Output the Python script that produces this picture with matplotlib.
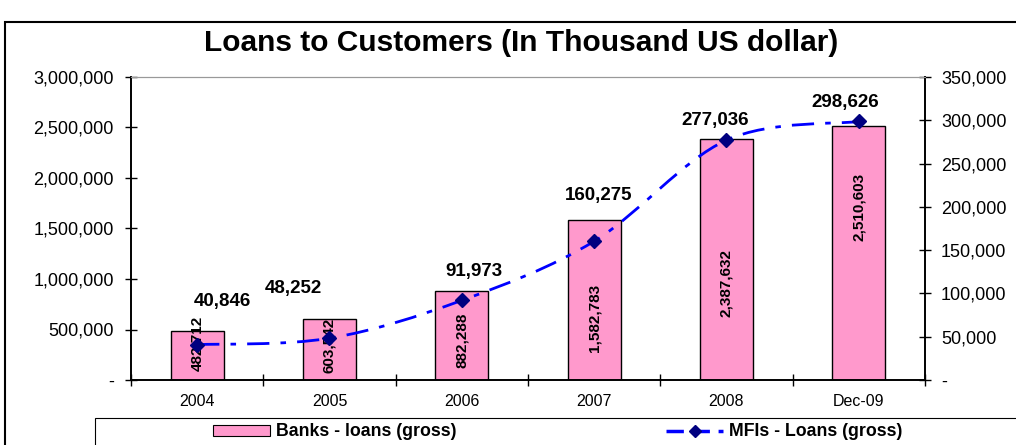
import matplotlib
matplotlib.use("Agg")
import matplotlib.pyplot as plt
import numpy as np
from matplotlib.path import Path
from matplotlib.patches import PathPatch, Rectangle
from matplotlib.lines import Line2D
from matplotlib.ticker import FuncFormatter, FixedLocator

plt.rcParams["font.family"] = ["Liberation Sans", "DejaVu Sans"]

# data
categories = ["2004", "2005", "2006", "2007", "2008", "Dec-09"]
banks_loans = [482712, 603542, 882288, 1582783, 2387632, 2510603]
mfi_loans = [40846, 48252, 91973, 160275, 277036, 298626]

# label placement (bar labels: centre height in left-axis units; line labels: offsets in points)
bar_label_y = [366000, 346000, 396000, 614000, 960000, 1710000]
line_label_off = [(18, 31), (-26, 36), (9, 21), (3, 33), (-8, 14), (-10, 14)]


def fmt(v, pos=None):
    if v == 0:
        return "-"
    return "{:,.0f}".format(v)


def smooth_path(xs, ys):
    # Excel style smoothed line: cubic bezier segments (catmull-rom control points)
    pts = np.column_stack([xs, ys]).astype(float)
    n = len(pts)
    verts = [pts[0]]
    codes = [Path.MOVETO]
    for i in range(n - 1):
        p0 = pts[max(i - 1, 0)]
        p1 = pts[i]
        p2 = pts[i + 1]
        p3 = pts[min(i + 2, n - 1)]
        c1 = p1 + (p2 - p0) / 6.0
        c2 = p2 - (p3 - p1) / 6.0
        verts += [c1, c2, p2]
        codes += [Path.CURVE4] * 3
    return Path(verts, codes)


fig = plt.figure(figsize=(10.16, 4.45), dpi=100)
ax = fig.add_axes([131 / 1016, 1 - 380 / 445, 794 / 1016, 303 / 445])
ax2 = ax.twinx()

x = np.arange(len(categories))
ax.bar(x, banks_loans, width=0.4, color="#FF99CC", edgecolor="black", linewidth=1.0, zorder=2)
for xi, v, ly in zip(x, banks_loans, bar_label_y):
    ax.text(xi, ly, fmt(v), rotation=90, ha="center", va="center",
            fontsize=11, fontweight="bold", zorder=4)

ax.set_xlim(-0.5, len(categories) - 0.5)
ax.set_ylim(0, 3000000)
ax.yaxis.set_major_locator(FixedLocator(np.arange(0, 3000001, 500000)))
ax.yaxis.set_major_formatter(FuncFormatter(fmt))
ax.set_xticks(x)
ax.set_xticklabels(categories)
ax.xaxis.set_minor_locator(FixedLocator(np.arange(-0.5, len(categories), 1.0)))
ax.tick_params(axis="x", which="major", length=0, labelsize=11.5, pad=10)
ax.tick_params(axis="x", which="minor", direction="inout", length=9, width=1)
ax.tick_params(axis="y", direction="inout", length=9, width=1, labelsize=13, pad=8)

ax2.set_ylim(0, 350000)
ax2.yaxis.set_major_locator(FixedLocator(np.arange(0, 350001, 50000)))
ax2.yaxis.set_major_formatter(FuncFormatter(fmt))
ax2.tick_params(axis="y", direction="inout", length=9, width=1, labelsize=13, pad=7)

for a in (ax, ax2):
    a.spines["top"].set_color("#999999")
    a.spines["top"].set_linewidth(0.8)
    a.spines["left"].set_linewidth(1.2)
    a.spines["right"].set_linewidth(1.2)
    a.spines["bottom"].set_linewidth(1.2)

curve = PathPatch(smooth_path(x, mfi_loans), facecolor="none", edgecolor="#0000FF",
                  linewidth=2, linestyle=(0, (8, 4, 2, 4)), zorder=3)
ax2.add_patch(curve)
ax2.plot(x, mfi_loans, linestyle="none", marker="D", markersize=7,
         color="#000080", zorder=5)
for xi, v, off in zip(x, mfi_loans, line_label_off):
    ax2.annotate(fmt(v), (xi, v), xytext=off, textcoords="offset points",
                 ha="center", va="center", fontsize=13.5, fontweight="bold")

fig.text(0.513, 1 - 43 / 445, "Loans to Customers (In Thousand US dollar)",
         ha="center", va="center", fontsize=21.5, fontweight="bold")

# outer chart border and legend box (both run off the picture)
fig.patches.append(Rectangle((5 / 1016, -0.1), 1.2, 1 - 22 / 445 + 0.1,
                             transform=fig.transFigure, fill=False,
                             edgecolor="black", linewidth=1.5))
fig.patches.append(Rectangle((95 / 1016, -0.1), 1.2, 0.1 + 1 - 418 / 445,
                             transform=fig.transFigure, fill=False,
                             edgecolor="black", linewidth=0.8))

h_bar = Rectangle((0, 0), 1, 1, facecolor="#FF99CC", edgecolor="black", linewidth=0.8)
h_line = Line2D([], [], color="#0000FF", linewidth=2.5, linestyle=(0, (5, 2.5)),
                marker="D", markersize=6, markerfacecolor="#000080", markeredgecolor="#000080")
fig.legend([h_bar, h_line], ["Banks - loans (gross)", "MFIs - Loans (gross)"],
           loc="center left", bbox_to_anchor=(204 / 1016, 1 - 432 / 445), ncol=2,
           frameon=False, handlelength=3.2, handleheight=0.6, handletextpad=0.35,
           columnspacing=11.8, borderpad=0, prop={"weight": "bold", "size": 12.8})

fig.savefig("out.png", dpi=100)
